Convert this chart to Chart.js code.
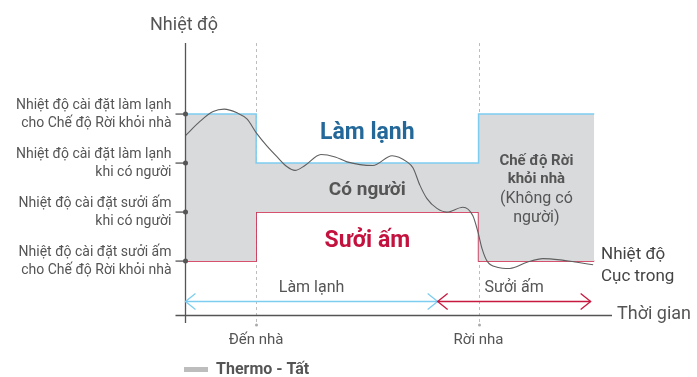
<!DOCTYPE html>
<html>
  <head>
    <title>Thermo</title>
    <meta charset="UTF-8" />
    <style>
      body { margin: 0; background: #fff; }
    </style>
  </head>

  <body>
    <canvas id="myChart" width="697" height="377"></canvas>

<script src="https://cdn.jsdelivr.net/npm/chart.js@4"></script>
<script>

// nhiệt độ cục trong theo thời gian (giờ, °C)
var timeIndoor = [0, 0.42, 0.79, 1.1, 1.46, 1.74, 2.02, 2.3, 2.59, 2.87, 3.09, 3.37, 3.82, 4.22, 4.55, 5.28, 5.82, 6.24, 6.41, 6.6, 6.8, 7.08, 7.36, 7.81, 8.09, 8.23, 8.35, 8.49, 8.77, 9.13, 9.61, 10.06, 10.54, 11.02, 11.47];
var tempIndoor = [26.2, 27.4, 28.2, 28.4, 28.1, 27.6, 26.4, 25.4, 24.5, 23.7, 23.4, 23.8, 24.7, 24.5, 24.1, 23.8, 24.6, 24.1, 23.6, 22.2, 21.1, 20.3, 20.0, 20.4, 19.7, 18.4, 17.0, 16.0, 15.5, 15.4, 15.9, 16.2, 16.1, 15.9, 15.7];

// nhiệt độ cài đặt (bậc thang)
var setTime = [0, 2, 8.25, 11.5];
var coolSet = [28, 24, 28, 28];
var heatSet = [16, 20, 16, 16];

// mốc thời gian
var arriveTime = 2;
var leaveTime = 8.25;
var switchTime = 7.1;   // chuyển từ làm lạnh sang sưởi ấm
var heatEndTime = 11.4;

// nhãn trục tung
var yLevels = [28, 24, 20, 16];
var yLabels = [
  ['Nhiệt độ cài đặt làm lạnh', 'cho Chế độ Rời khỏi nhà'],
  ['Nhiệt độ cài đặt làm lạnh', 'khi có người'],
  ['Nhiệt độ cài đặt sưởi ấm', 'khi có người'],
  ['Nhiệt độ cài đặt sưởi ấm', 'cho Chế độ Rời khỏi nhà']
];
var xMarks = [arriveTime, leaveTime];
var xLabels = ['Đến nhà', 'Rời nha'];

var FONT = 'Roboto, "Noto Sans", sans-serif';

function pts(xs, ys) {
  var out = [];
  for (var i = 0; i < xs.length; i++) out.push({x: xs[i], y: ys[i]});
  return out;
}

function font(size, bold) {
  return (bold ? 'bold ' : '') + size + 'px ' + FONT;
}

function arrowHead(ctx, x, y, dir) {
  ctx.beginPath();
  ctx.moveTo(x - dir * 10, y - 8);
  ctx.lineTo(x, y);
  ctx.lineTo(x - dir * 10, y + 8);
  ctx.stroke();
}

function doubleArrow(ctx, x1, x2, y, color) {
  ctx.save();
  ctx.strokeStyle = color;
  ctx.lineWidth = 1.3;
  ctx.beginPath();
  ctx.moveTo(x1, y);
  ctx.lineTo(x2, y);
  ctx.stroke();
  arrowHead(ctx, x1, y, -1);
  arrowHead(ctx, x2, y, 1);
  ctx.restore();
}

var decor = {
  id: 'decor',
  beforeDatasetsDraw: function(chart) {
    var ctx = chart.ctx, xs = chart.scales.x, a = chart.chartArea;
    // đường đứng nét đứt: đến nhà, rời nhà
    ctx.save();
    ctx.strokeStyle = '#bdbdbd';
    ctx.lineWidth = 1;
    ctx.setLineDash([3, 3]);
    xMarks.forEach(function(t) {
      var px = Math.round(xs.getPixelForValue(t)) + 0.5;
      ctx.beginPath();
      ctx.moveTo(px, a.top);
      ctx.lineTo(px, a.bottom + 8);
      ctx.stroke();
    });
    ctx.restore();
  },
  afterDraw: function(chart) {
    var ctx = chart.ctx, xs = chart.scales.x, ys = chart.scales.y, a = chart.chartArea;
    var left = Math.round(a.left) + 0.5, bottom = Math.round(a.bottom) + 0.5;

    // trục
    ctx.save();
    ctx.strokeStyle = '#555';
    ctx.lineWidth = 1.3;
    ctx.beginPath();
    ctx.moveTo(left, a.top);
    ctx.lineTo(left, a.bottom + 8);
    ctx.moveTo(left - 10, bottom);
    ctx.lineTo(a.right, bottom);
    ctx.stroke();

    // vạch và chấm trên trục tung
    ctx.fillStyle = '#555';
    yLevels.forEach(function(v) {
      var py = ys.getPixelForValue(v);
      ctx.beginPath();
      ctx.moveTo(left - 10, py);
      ctx.lineTo(left, py);
      ctx.stroke();
      ctx.beginPath();
      ctx.arc(left, py, 2.5, 0, Math.PI * 2);
      ctx.fill();
    });

    // chấm cuối đường nét đứt
    ctx.fillStyle = '#aaa';
    xMarks.forEach(function(t) {
      ctx.beginPath();
      ctx.arc(Math.round(xs.getPixelForValue(t)) + 0.5, a.bottom + 10, 1.5, 0, Math.PI * 2);
      ctx.fill();
    });

    // nhãn trục tung
    ctx.fillStyle = '#555';
    ctx.textAlign = 'right';
    ctx.textBaseline = 'middle';
    ctx.font = font(14, false);
    yLevels.forEach(function(v, i) {
      var py = ys.getPixelForValue(v);
      ctx.fillText(yLabels[i][0], left - 14, py - 9);
      ctx.fillText(yLabels[i][1], left - 14, py + 9);
    });

    // tiêu đề trục
    ctx.textAlign = 'left';
    ctx.font = font(18, false);
    ctx.fillText('Nhiệt độ', 150, 25);
    ctx.fillText('Thời gian', a.right + 5, bottom - 1);

    // nhãn trục hoành
    ctx.textAlign = 'center';
    ctx.font = font(15, false);
    xMarks.forEach(function(t, i) {
      ctx.fillText(xLabels[i], xs.getPixelForValue(t), a.bottom + 25);
    });

    // mũi tên chế độ
    var ay = ys.getPixelForValue(12.7);
    var sx = xs.getPixelForValue(switchTime), ex = xs.getPixelForValue(heatEndTime);
    doubleArrow(ctx, left, sx, ay, '#7dcdf0');
    doubleArrow(ctx, sx, ex, ay, '#c8183f');
    ctx.fillStyle = '#555';
    ctx.font = font(16, false);
    ctx.fillText('Làm lạnh', (left + sx) / 2, ay - 14);
    ctx.fillText('Sưởi ấm', (sx + ex) / 2, ay - 14);

    // chữ trong vùng
    var midX = (xs.getPixelForValue(arriveTime) + xs.getPixelForValue(leaveTime)) / 2;
    ctx.font = font(23, true);
    ctx.fillStyle = '#24689a';
    ctx.fillText('Làm lạnh', midX, ys.getPixelForValue(26.45));
    ctx.fillStyle = '#c4123f';
    ctx.fillText('Sưởi ấm', midX, ys.getPixelForValue(17.65));
    ctx.fillStyle = '#555';
    ctx.font = font(19, true);
    ctx.fillText('Có người', midX, ys.getPixelForValue(21.8));

    var awayX = (xs.getPixelForValue(leaveTime) + xs.getPixelForValue(setTime[3])) / 2;
    ctx.font = font(15, true);
    ctx.fillText('Chế độ Rời', awayX, ys.getPixelForValue(24.15));
    ctx.fillText('khỏi nhà', awayX, ys.getPixelForValue(22.65));
    ctx.font = font(16, false);
    ctx.fillText('(Không có', awayX, ys.getPixelForValue(21.1));
    ctx.fillText('người)', awayX, ys.getPixelForValue(19.5));

    // nhãn đường nhiệt độ
    ctx.textAlign = 'left';
    ctx.fillStyle = '#444';
    ctx.font = font(17, false);
    ctx.fillText('Nhiệt độ', a.right - 11, ys.getPixelForValue(16.55));
    ctx.fillText('Cục trong', a.right - 11, ys.getPixelForValue(14.75));

    // chú thích
    ctx.fillStyle = '#bdbdbd';
    ctx.fillRect(184, 367, 24, 5);
    ctx.fillStyle = '#555';
    ctx.font = font(16, true);
    ctx.fillText('Thermo - Tất', 216, 370);
    ctx.restore();
  }
};

var config = {
  type: 'line',
  data: {
    datasets: [{
      label: 'Nhiệt độ Cục trong',
      data: pts(timeIndoor, tempIndoor),
      borderColor: '#5f5f5f',
      borderWidth: 1.1,
      pointRadius: 0,
      cubicInterpolationMode: 'monotone',
      fill: false,
      order: 0
    }, {
      label: 'Làm lạnh',
      data: pts(setTime, coolSet),
      borderColor: '#7dcdf0',
      borderWidth: 1.5,
      pointRadius: 0,
      stepped: 'before',
      backgroundColor: '#d9dadc',
      fill: '+1',
      order: 1
    }, {
      label: 'Sưởi ấm',
      data: pts(setTime, heatSet),
      borderColor: '#c8183f',
      borderWidth: 1.5,
      pointRadius: 0,
      stepped: 'before',
      fill: false,
      order: 1
    }]
  },
  options: {
    responsive: false,
    animation: false,
    layout: {
      padding: { left: 185, right: 85, top: 43, bottom: 62 }
    },
    plugins: {
      legend: { display: false },
      tooltip: { enabled: false }
    },
    scales: {
      x: { type: 'linear', min: 0, max: 12, display: false },
      y: { type: 'linear', min: 11.6, max: 33.8, display: false }
    }
  },
  plugins: [decor]
};

var myChart = new Chart(document.getElementById('myChart'), config);
</script>

</body>
</html>
